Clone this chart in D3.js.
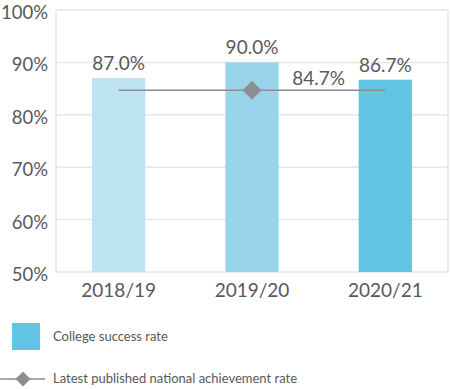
<!DOCTYPE html>
<html><head><meta charset="utf-8">
<script src="https://cdn.jsdelivr.net/npm/d3@7"></script>
<style>body{margin:0;background:#fff}svg{display:block}</style>
</head><body>
<script>
const categories = ["2018/19", "2019/20", "2020/21"];
const successRate = [87.0, 90.0, 86.7];
const barColors = ["#bee3f2", "#99d5ea", "#62c4e3"];
const nationalRate = 84.7;
const yTicks = [50, 60, 70, 80, 90, 100];
const legendLabels = ["College success rate", "Latest published national achievement rate"];

const W = 450, H = 389;
const mLeft = 56, mRight = 448, mTop = 10, mBottom = 272;
const font = "Lato, 'Open Sans', sans-serif";
const textColor = "#58595b";

const svg = d3.select("body").append("svg").attr("width", W).attr("height", H);

const y = d3.scaleLinear().domain([50, 100]).range([mBottom, mTop]);
const x = d3.scaleBand().domain(categories).range([mLeft, mRight]).paddingInner(0.6).paddingOuter(0.27);

// grid
svg.append("g").selectAll("line").data(yTicks).join("line")
  .attr("x1", mLeft).attr("x2", mRight)
  .attr("y1", d => y(d)).attr("y2", d => y(d))
  .attr("stroke", "#e6e6e6").attr("stroke-width", 1.5);
svg.append("line").attr("x1", mLeft).attr("x2", mLeft).attr("y1", mTop).attr("y2", mBottom).attr("stroke", "#e6e6e6").attr("stroke-width", 1.5);
svg.append("line").attr("x1", mRight).attr("x2", mRight).attr("y1", mTop).attr("y2", mBottom).attr("stroke", "#e6e6e6").attr("stroke-width", 1.5);

// y axis labels
const yAxis = d3.axisLeft(y).tickValues(yTicks).tickFormat(d => d + "%").tickSize(0).tickPadding(8);
const ya = svg.append("g").attr("transform", `translate(${mLeft},0)`).call(yAxis);
ya.select(".domain").remove();
ya.selectAll("text").attr("font-family", font).attr("font-size", 18.5).attr("fill", textColor).attr("dy", "8.5px");

// x axis labels
const xAxis = d3.axisBottom(x).tickSize(0).tickPadding(12);
const xa = svg.append("g").attr("transform", `translate(0,${mBottom})`).call(xAxis);
xa.select(".domain").remove();
xa.selectAll("text").attr("font-family", font).attr("font-size", 19).attr("fill", textColor);

// bars
svg.append("g").selectAll("rect").data(successRate).join("rect")
  .attr("x", (d, i) => x(categories[i]))
  .attr("width", x.bandwidth())
  .attr("y", d => y(d))
  .attr("height", d => y(50) - y(d))
  .attr("fill", (d, i) => barColors[i]);

// bar labels
svg.append("g").selectAll("text").data(successRate).join("text")
  .attr("x", (d, i) => x(categories[i]) + x.bandwidth() / 2)
  .attr("y", d => y(d) - 8)
  .attr("text-anchor", "middle")
  .attr("font-family", font).attr("font-size", 19).attr("fill", textColor)
  .text(d => d.toFixed(1) + "%");

// national line
const cx = c => x(c) + x.bandwidth() / 2;
svg.append("line")
  .attr("x1", cx(categories[0])).attr("x2", cx(categories[2]))
  .attr("y1", y(nationalRate)).attr("y2", y(nationalRate))
  .attr("stroke", "#8c8c8e").attr("stroke-width", 1.5);
const ds = 9.5;
svg.append("path")
  .attr("d", `M0,${-ds}L${ds},0L0,${ds}L${-ds},0Z`)
  .attr("transform", `translate(${cx(categories[1])},${y(nationalRate)})`)
  .attr("fill", "#8e8e92");
svg.append("text")
  .attr("x", (cx(categories[1]) + cx(categories[2])) / 2)
  .attr("y", y(nationalRate) - 5)
  .attr("text-anchor", "middle")
  .attr("font-family", font).attr("font-size", 19).attr("fill", textColor)
  .text(nationalRate.toFixed(1) + "%");

// legend
svg.append("rect").attr("x", 12).attr("y", 323).attr("width", 28).attr("height", 27).attr("fill", barColors[2]);
svg.append("text").attr("x", 53).attr("y", 341).attr("font-family", font).attr("font-size", 13).attr("fill", textColor).text(legendLabels[0]);
svg.append("line").attr("x1", 0).attr("x2", 45).attr("y1", 379).attr("y2", 379).attr("stroke", "#8c8c8e").attr("stroke-width", 1.5);
const ls = 7.5;
svg.append("path").attr("d", `M0,${-ls}L${ls},0L0,${ls}L${-ls},0Z`).attr("transform", "translate(23,379)").attr("fill", "#8e8e92");
svg.append("text").attr("x", 53).attr("y", 383).attr("font-family", font).attr("font-size", 13).attr("fill", textColor).text(legendLabels[1]);
</script>
</body></html>
